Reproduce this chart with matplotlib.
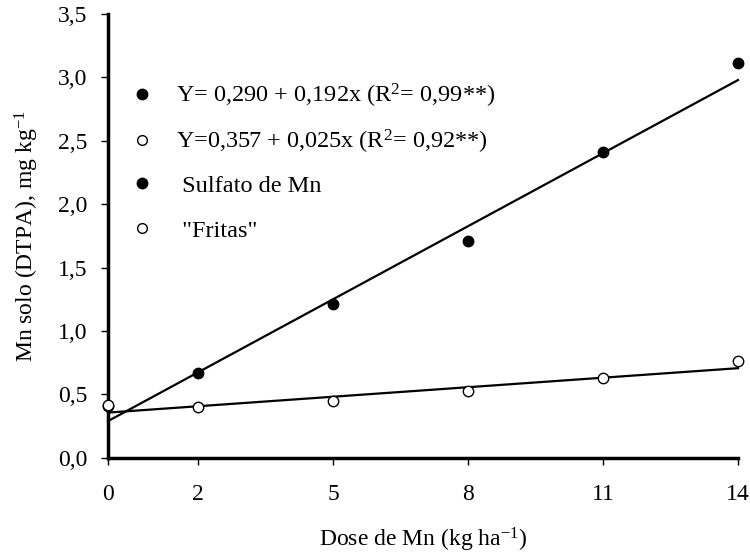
import numpy as np
import matplotlib
matplotlib.use("Agg")
import matplotlib.pyplot as plt
from matplotlib.lines import Line2D
from matplotlib.legend import Legend

plt.rcParams["font.family"] = ["Liberation Serif", "DejaVu Serif"]
plt.rcParams["mathtext.fontset"] = "custom"
plt.rcParams["mathtext.rm"] = "Liberation Serif"
plt.rcParams["mathtext.it"] = "Liberation Serif:italic"

# Dados
doses = [0, 2, 5, 8, 11, 14]
sulfato = [0.41, 0.67, 1.21, 1.71, 2.41, 3.11]
fritas = [0.42, 0.40, 0.45, 0.53, 0.63, 0.76]
# Coeficientes das regressões (a + b x)
coef_sulfato = (0.290, 0.192)
coef_fritas = (0.357, 0.025)
y_ticks = [0.0, 0.5, 1.0, 1.5, 2.0, 2.5, 3.0, 3.5]
y_tick_labels = ["0,0", "0,5", "1,0", "1,5", "2,0", "2,5", "3,0", "3,5"]
legend_labels = [
    "Y= 0,290 + 0,192x (R$^{2}$= 0,99**)",
    "Y=0,357 + 0,025x (R$^{2}$= 0,92**)",
    " Sulfato de Mn",
    " \"Fritas\"",
]
legend_fill = ["black", "white", "black", "white"]

FS = 17

fig = plt.figure(figsize=(7.5, 5.53), dpi=100)
ax = fig.add_axes([0.144, 0.172, 0.840, 0.803])

x_line = np.array([doses[0], doses[-1]])
for a, b in (coef_sulfato, coef_fritas):
    ax.plot(x_line, a + b * x_line, color="black", lw=1.6, zorder=2, clip_on=False)

ax.plot(doses, sulfato, "o", ms=7.5, mfc="black", mec="black", zorder=3, clip_on=False)
ax.plot(doses, fritas, "o", ms=7.5, mfc="white", mec="black", mew=1.0, zorder=4, clip_on=False)

ax.set_xlim(0, 14)
ax.set_ylim(0, 3.5)
ax.set_xticks(doses)
ax.set_xticklabels([str(d) for d in doses], fontsize=FS)
ax.set_yticks(y_ticks)
ax.set_yticklabels(y_tick_labels, fontsize=FS)
ax.tick_params(axis="both", direction="out", length=5, width=1)
ax.tick_params(axis="x", pad=14)
ax.tick_params(axis="y", pad=10)

for s in ("top", "right"):
    ax.spines[s].set_visible(False)
for s in ("left", "bottom"):
    ax.spines[s].set_linewidth(2.5)

ax.set_xlabel("Dose de Mn (kg ha$^{\\mathrm{-1}}$)", fontsize=FS, labelpad=15)
ax.set_ylabel("Mn solo (DTPA), mg kg$^{\\mathrm{-1}}$", fontsize=FS, labelpad=12)

# legenda: uma entrada por linha, espaçamento igual
row_y = [0.816, 0.712, 0.613, 0.512]
for label, fill, yy in zip(legend_labels, legend_fill, row_y):
    h = Line2D([], [], ls="none", marker="o", ms=7.0 if fill == "white" else 7.5,
               mfc=fill, mec="black")
    leg = Legend(ax, [h], [label], loc="center left", bbox_to_anchor=(0.0, yy),
                 frameon=False, fontsize=17.5, handletextpad=0.9, handlelength=1.0)
    ax.add_artist(leg)

fig.savefig("out.png", dpi=100)
